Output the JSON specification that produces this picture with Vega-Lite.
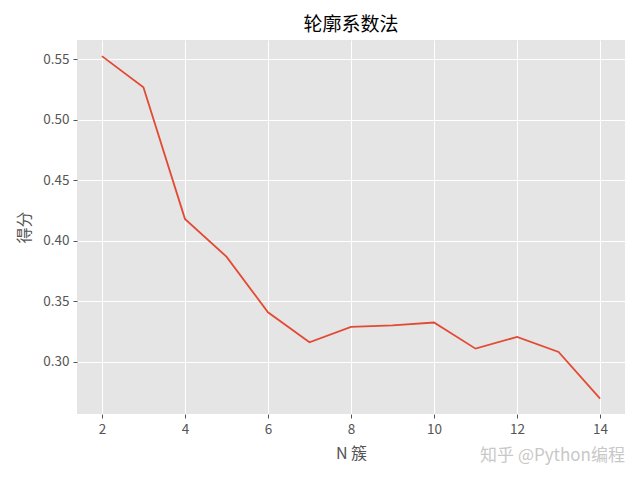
{
  "$schema": "https://vega.github.io/schema/vega-lite/v6.json",
  "width": 548,
  "height": 374,
  "autosize": {"type": "none"},
  "padding": {"left": 77, "top": 40, "right": 15, "bottom": 66},
  "background": "white",
  "title": {
    "text": "轮廓系数法",
    "font": "Noto Sans CJK SC",
    "fontSize": 19,
    "fontWeight": "normal",
    "color": "#000000",
    "anchor": "middle",
    "offset": 5
  },
  "config": {
    "view": {"fill": "#E5E5E5", "stroke": null},
    "axis": {
      "domain": false,
      "grid": true,
      "gridColor": "#FFFFFF",
      "gridWidth": 1,
      "tickColor": "#555555",
      "tickSize": 4,
      "labelColor": "#555555",
      "labelFont": "Noto Sans CJK SC",
      "labelFontSize": 13.5,
      "titleColor": "#555555",
      "titleFont": "Noto Sans CJK SC",
      "titleFontSize": 16,
      "titleFontWeight": "normal"
    }
  },
  "datasets": {
    "scores": [
      {"k": 2, "score": 0.5527},
      {"k": 3, "score": 0.5269},
      {"k": 4, "score": 0.4182},
      {"k": 5, "score": 0.387},
      {"k": 6, "score": 0.341},
      {"k": 7, "score": 0.3162},
      {"k": 8, "score": 0.329},
      {"k": 9, "score": 0.3303},
      {"k": 10, "score": 0.3326},
      {"k": 11, "score": 0.311},
      {"k": 12, "score": 0.3207},
      {"k": 13, "score": 0.3083},
      {"k": 14, "score": 0.2697}
    ],
    "mark": [
      {"label": "知乎 @Python编程", "k": 14.6, "score": 0.257}
    ]
  },
  "layer": [
    {
      "data": {"name": "scores"},
      "mark": {"type": "line", "color": "#E24A33", "strokeWidth": 1.8},
      "encoding": {
        "x": {
          "field": "k",
          "type": "quantitative",
          "title": "N 簇",
          "scale": {"domain": [1.4, 14.6], "nice": false, "zero": false},
          "axis": {"values": [2, 4, 6, 8, 10, 12, 14], "labelPadding": 4, "titlePadding": 10}
        },
        "y": {
          "field": "score",
          "type": "quantitative",
          "title": "得分",
          "scale": {"domain": [0.257, 0.566], "nice": false, "zero": false},
          "axis": {"values": [0.30, 0.35, 0.40, 0.45, 0.50, 0.55], "format": ".2f", "labelPadding": 4, "titlePadding": 10}
        }
      }
    },
    {
      "data": {"name": "mark"},
      "mark": {"type": "text", "align": "right", "baseline": "middle", "dy": 42, "fontSize": 17, "font": "Noto Sans CJK SC", "color": "#C8C8C8", "clip": false},
      "encoding": {
        "x": {"field": "k", "type": "quantitative"},
        "y": {"field": "score", "type": "quantitative"},
        "text": {"field": "label"}
      }
    }
  ]
}
